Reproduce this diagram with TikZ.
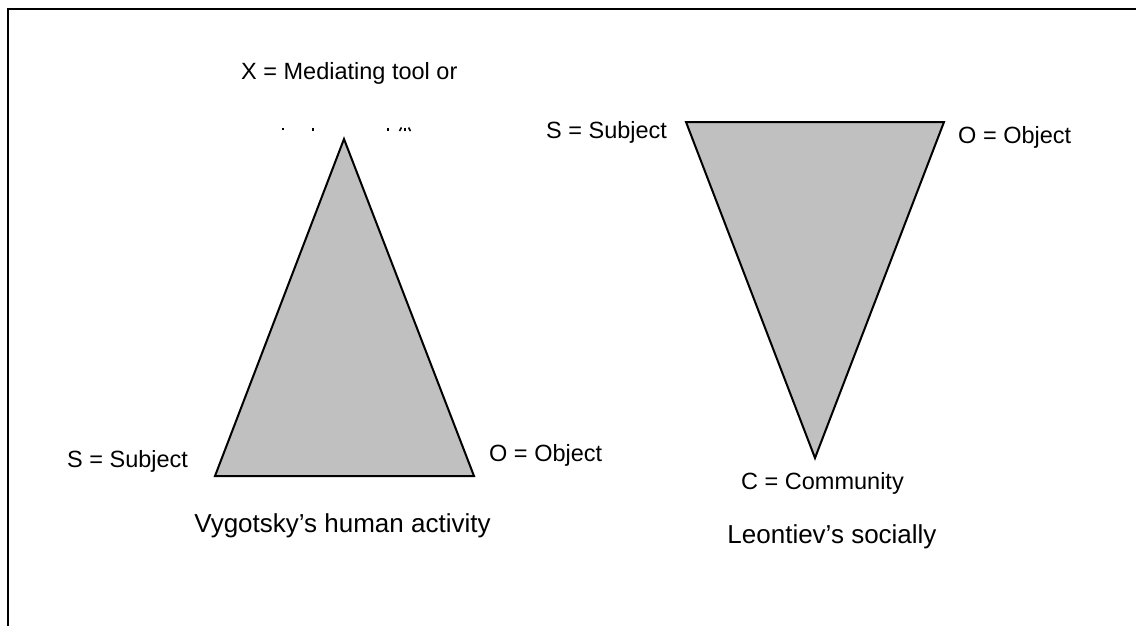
\documentclass[tikz,border=0pt]{standalone}
\usepackage{fontspec}
\setmainfont{Liberation Sans}
\definecolor{triGray}{RGB}{192,192,192}
\begin{document}
\begin{tikzpicture}[x=1pt,y=-1pt,
  tri/.style={draw=black, line width=2pt, fill=triGray, line join=miter},
  lbl/.style={inner sep=0pt, anchor=base west, font=\fontsize{23.5}{28}\selectfont},
  ttl/.style={inner sep=0pt, anchor=base, font=\fontsize{26}{31}\selectfont},
  frag/.style={line width=1.6pt}]
\useasboundingbox (0,0) rectangle (1136,626);
% frame (top and left edges only)
\draw[line width=2.2pt] (8,626) -- (8,9) -- (1136,9);

% Vygotsky triangle
\coordinate (vX) at (344,139);
\coordinate (vS) at (215,476);
\coordinate (vO) at (474,476);
\draw[tri] (vX) -- (vS) -- (vO) -- cycle;

% Leontiev triangle
\coordinate (lS) at (686,122);
\coordinate (lO) at (944,122);
\coordinate (lC) at (815,458);
\draw[tri] (lS) -- (lO) -- (lC) -- cycle;

% labels
\node[lbl] (xlab) at (241,80) {X = Mediating tool or};
\node[lbl] (vsub) at (67,467) {S = Subject};
\node[lbl] (vobj) at (489,461) {O = Object};
\node[ttl] (vtitle) at (342.5,532) {Vygotsky’s human activity};

\node[lbl] (lsub) at (546,139) {S = Subject};
\node[lbl] (lobj) at (958,143) {O = Object};
\node[lbl] (lcom) at (741,489) {C = Community};
\node[ttl] (ltitle) at (832,543) {Leontiev’s socially};

% clipped fragments of the second line of the X label
\fill (282,128) rectangle (284,130);
\draw[frag] (313,127.5) -- (313,131);
\draw[frag] (388,127.5) -- (388,131);
\draw[frag] (399.5,131) -- (401.5,127.5);
\draw[frag] (405,127.5) -- (405,131);
\draw[frag] (408.5,127.5) -- (410.5,131);
\end{tikzpicture}
\end{document}
